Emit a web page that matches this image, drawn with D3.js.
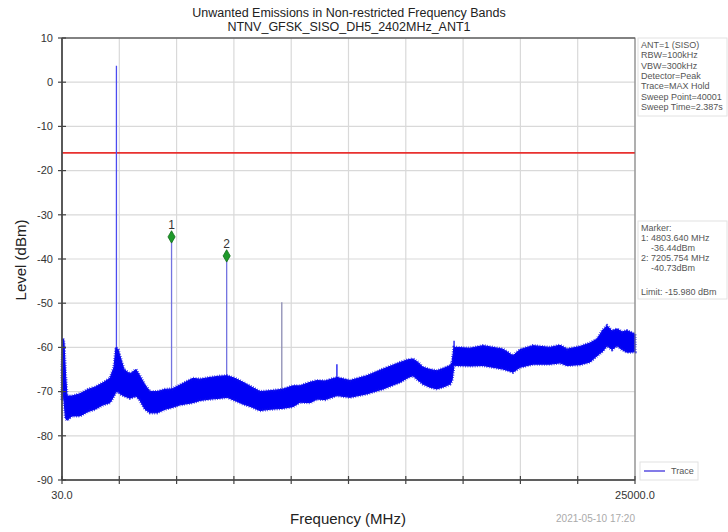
<!DOCTYPE html>
<html>
<head>
<meta charset="UTF-8" />
<script src="https://d3js.org/d3.v7.min.js"></script>
<style>
  body { margin: 0; background: #fff; font-family: "Liberation Sans", Arial, sans-serif; }
  svg { display: block; }
  .tick-label { font-size: 11px; fill: #333; }
  .info { font-size: 9px; fill: #555; }
</style>
</head>
<body>
<svg id="chart"></svg>
<script>
  // trace envelope (MHz, dBm)
  const traceFreq = [30, 74, 117, 183, 248, 466, 814, 1163, 1468, 1817, 2122, 2296, 2383, 2470, 2558,
    2732, 2993, 3255, 3429, 3647, 3865, 4170, 4519, 4824, 5172, 5739, 6044, 6480, 6916, 7221,
    7569, 7918, 8310, 8659, 9094, 9618, 10097, 10402, 10838, 11143, 11492, 12015, 12581, 13322,
    14019, 14760, 15109, 15327, 15544, 15762, 16067, 16373, 16721, 16939, 17026, 17113, 17244,
    17810, 18377, 18813, 19249, 19685, 19990, 20556, 21297, 21733, 22038, 22605, 23040, 23345,
    23607, 23781, 24000, 24217, 24435, 24653, 25000];
  const traceUpper = [-65, -58, -59, -66, -71, -71, -70.5, -69.5, -69, -68, -67, -64.5, -60, -60.5, -62,
    -65, -66, -65, -66.5, -68.5, -70, -70, -69.5, -69.4, -68.5, -67, -67.2, -66.8, -66.5, -66.4,
    -67, -67.9, -69, -70, -69.8, -69.5, -68.7, -68.7, -67.9, -67.5, -67.6, -66.8, -67.5, -66.4,
    -64.9, -63.4, -62.8, -62.6, -63.4, -64.5, -65, -65.3, -64.6, -64.1, -63.5, -60, -60,
    -60.2, -59.6, -60, -60.4, -61.9, -60.5, -59.6, -60, -59.5, -60.4, -59.8, -59, -58.1,
    -56, -55.1, -56.3, -55.8, -56.5, -56.2, -57];
  const traceLower = [-72, -70, -72, -76, -76.5, -75.5, -75.5, -74.5, -74, -73, -72.5, -71, -70, -70, -70.5,
    -71, -71.5, -71, -72, -74, -74.8, -74.8, -74, -73.6, -73, -72.5, -72, -71.7, -71.5, -71.3,
    -72, -72.8, -73.5, -74.3, -74, -73.8, -73.4, -72.4, -72.5, -71.7, -71.8, -70.9, -71.3, -70.5,
    -69.4, -67.9, -66.8, -66.4, -67.4, -68.3, -69, -69.4, -68.8, -68.3, -67.5, -64, -64.1,
    -64.2, -64.1, -64.5, -64.9, -65.6, -64.5, -63.8, -63.8, -63.5, -64.1, -63.9, -63.3, -61.9,
    -60.8, -59.6, -60.5, -59.6, -60.5, -61.1, -61];

  // narrow spurs (MHz, peak dBm, base dBm)
  const spurFreq  = [2402, 4804, 7206, 9608, 12010, 17115];
  const spurPeak  = [3.7, -35.0, -39.3, -49.8, -63.8, -58.5];
  const spurBase  = [-70, -73.5, -71, -73.6, -70.5, -64];
  const spurColor = ["#4b4bf0", "#7373e0", "#7373e0", "#8c8cb4", "#1010f0", "#1010f0"];

  // markers
  const markerLabel = ["1", "2"];
  const markerFreq  = [4803.64, 7205.754];
  const markerLevel = [-35.0, -39.3];

  const limitLevel = -15.98;

  const yTicks = [10, 0, -10, -20, -30, -40, -50, -60, -70, -80, -90];
  const xTickLabels = ["30.0", "", "", "", "", "", "", "", "", "", "25000.0"];

  const infoLines = ["ANT=1 (SISO)", "RBW=100kHz", "VBW=300kHz", "Detector=Peak",
    "Trace=MAX Hold", "Sweep Point=40001", "Sweep Time=2.387s"];
  const markerLines = ["Marker:", "1: 4803.640 MHz", "    -36.44dBm", "2: 7205.754 MHz", "    -40.73dBm"];

  const W = 728, H = 532;
  const L = 62, R = 635, T = 38, B = 480;

  const svg = d3.select("#chart").attr("width", W).attr("height", H);

  const x = d3.scaleLinear().domain([30, 25000]).range([L, R]);
  const y = d3.scaleLinear().domain([-90, 10]).range([B, T]);
  const xTicks = xTickLabels.map((d, i) => 30 + i * (25000 - 30) / 10);

  // grid
  svg.append("g").selectAll("line").data(yTicks).enter().append("line")
    .attr("x1", L).attr("x2", R).attr("y1", d => y(d)).attr("y2", d => y(d))
    .attr("stroke", "#d9d9d9").attr("stroke-width", 1.2);
  svg.append("g").selectAll("line").data(xTicks).enter().append("line")
    .attr("x1", d => x(d)).attr("x2", d => x(d)).attr("y1", T).attr("y2", B)
    .attr("stroke", "#d9d9d9").attr("stroke-width", 1.2);

  // limit line
  svg.append("line")
    .attr("x1", L).attr("x2", R).attr("y1", y(limitLevel)).attr("y2", y(limitLevel))
    .attr("stroke", "#e8312f").attr("stroke-width", 1.6);

  // spurs
  svg.append("g").selectAll("line").data(spurFreq).enter().append("line")
    .attr("x1", d => x(d)).attr("x2", d => x(d))
    .attr("y1", (d, i) => y(spurBase[i])).attr("y2", (d, i) => y(spurPeak[i]))
    .attr("stroke", (d, i) => spurColor[i]).attr("stroke-width", 1.3);

  // trace band, outline dashed to get the ragged max-hold edge
  const band = traceFreq.map((f, i) => ({ f, hi: traceUpper[i], lo: traceLower[i] }));
  const area = d3.area().x(d => x(d.f)).y0(d => y(d.lo)).y1(d => y(d.hi));
  svg.append("path").datum(band)
    .attr("d", area)
    .attr("fill", "#0000f5").attr("stroke", "#0000f5").attr("stroke-width", 1)
    .attr("stroke-linejoin", "round");
  svg.append("path").datum(band)
    .attr("d", area)
    .attr("fill", "none").attr("stroke", "#1010e8").attr("stroke-width", 3.2)
    .attr("stroke-dasharray", "0.8 1.6").attr("stroke-opacity", 0.85);

  // markers
  const mk = svg.append("g");
  mk.selectAll("path").data(markerFreq).enter().append("path")
    .attr("d", d3.symbol().type(d3.symbolDiamond).size(44))
    .attr("transform", (d, i) => `translate(${x(d)},${y(markerLevel[i])})`)
    .attr("fill", "#1e9a2a").attr("stroke", "#0f6b18").attr("stroke-width", 0.8);
  mk.selectAll("text").data(markerFreq).enter().append("text")
    .attr("x", d => x(d)).attr("y", (d, i) => y(markerLevel[i]) - 8)
    .attr("text-anchor", "middle").attr("font-size", 12).attr("fill", "#333")
    .text((d, i) => markerLabel[i]);

  // frame
  svg.append("rect").attr("x", L).attr("y", T).attr("width", R - L).attr("height", B - T)
    .attr("fill", "none").attr("stroke", "#777").attr("stroke-width", 1);
  svg.append("line").attr("x1", L).attr("x2", L).attr("y1", T).attr("y2", B)
    .attr("stroke", "#444").attr("stroke-width", 1.6);
  svg.append("line").attr("x1", L).attr("x2", R).attr("y1", B).attr("y2", B)
    .attr("stroke", "#444").attr("stroke-width", 1.6);
  svg.append("line").attr("x1", L).attr("x2", R).attr("y1", T).attr("y2", T)
    .attr("stroke", "#555").attr("stroke-width", 1.2);

  // y axis ticks and labels
  const ya = svg.append("g");
  ya.selectAll("line").data(yTicks).enter().append("line")
    .attr("x1", L - 4).attr("x2", L + 4).attr("y1", d => y(d)).attr("y2", d => y(d))
    .attr("stroke", "#444").attr("stroke-width", 1.2);
  ya.selectAll("text").data(yTicks).enter().append("text")
    .attr("class", "tick-label")
    .attr("x", L - 9).attr("y", d => y(d)).attr("dy", "0.35em")
    .attr("text-anchor", "end").text(d => d);

  // x axis ticks and labels
  const xa = svg.append("g");
  xa.selectAll("line").data(xTicks).enter().append("line")
    .attr("x1", d => x(d)).attr("x2", d => x(d)).attr("y1", B - 4).attr("y2", B + 4)
    .attr("stroke", "#444").attr("stroke-width", 1.2);
  xa.selectAll("text").data(xTicks).enter().append("text")
    .attr("class", "tick-label")
    .attr("x", d => x(d)).attr("y", B + 19)
    .attr("text-anchor", "middle").text((d, i) => xTickLabels[i]);

  // titles
  svg.append("text").attr("x", 349).attr("y", 17).attr("text-anchor", "middle")
    .attr("font-size", 12.5).attr("fill", "#222")
    .text("Unwanted Emissions in Non-restricted Frequency Bands");
  svg.append("text").attr("x", 349).attr("y", 31).attr("text-anchor", "middle")
    .attr("font-size", 12.5).attr("fill", "#222")
    .text("NTNV_GFSK_SISO_DH5_2402MHz_ANT1");

  svg.append("text").attr("x", 348).attr("y", 524).attr("text-anchor", "middle")
    .attr("font-size", 15).attr("fill", "#222").text("Frequency (MHz)");
  svg.append("text").attr("transform", "translate(26,260) rotate(-90)")
    .attr("text-anchor", "middle").attr("font-size", 15).attr("fill", "#222")
    .text("Level (dBm)");

  svg.append("text").attr("x", 635).attr("y", 522).attr("text-anchor", "end")
    .attr("font-size", 10).attr("fill", "#aaa").text("2021-05-10 17:20");

  // info boxes
  svg.append("rect").attr("x", 638).attr("y", 38).attr("width", 89).attr("height", 78)
    .attr("fill", "#fff").attr("stroke", "#e2e2e2");
  svg.append("g").selectAll("text").data(infoLines).enter().append("text")
    .attr("class", "info").attr("x", 641).attr("y", (d, i) => 48 + i * 10.3)
    .text(d => d);

  svg.append("rect").attr("x", 638).attr("y", 221).attr("width", 89).attr("height", 78)
    .attr("fill", "#fff").attr("stroke", "#e2e2e2");
  svg.append("g").selectAll("text").data(markerLines).enter().append("text")
    .attr("class", "info").attr("x", 641).attr("y", (d, i) => 231 + i * 10)
    .attr("xml:space", "preserve").style("white-space", "pre")
    .text(d => d);
  svg.append("text").attr("class", "info").attr("x", 641).attr("y", 295)
    .text("Limit: -15.980 dBm");

  // legend
  svg.append("rect").attr("x", 640).attr("y", 462).attr("width", 58).attr("height", 18)
    .attr("fill", "#fff").attr("stroke", "#e2e2e2");
  svg.append("line").attr("x1", 644).attr("x2", 665).attr("y1", 471).attr("y2", 471)
    .attr("stroke", "#5a4fe0").attr("stroke-width", 1.5);
  svg.append("text").attr("class", "info").attr("x", 671).attr("y", 474).text("Trace");
</script>
</body>
</html>
